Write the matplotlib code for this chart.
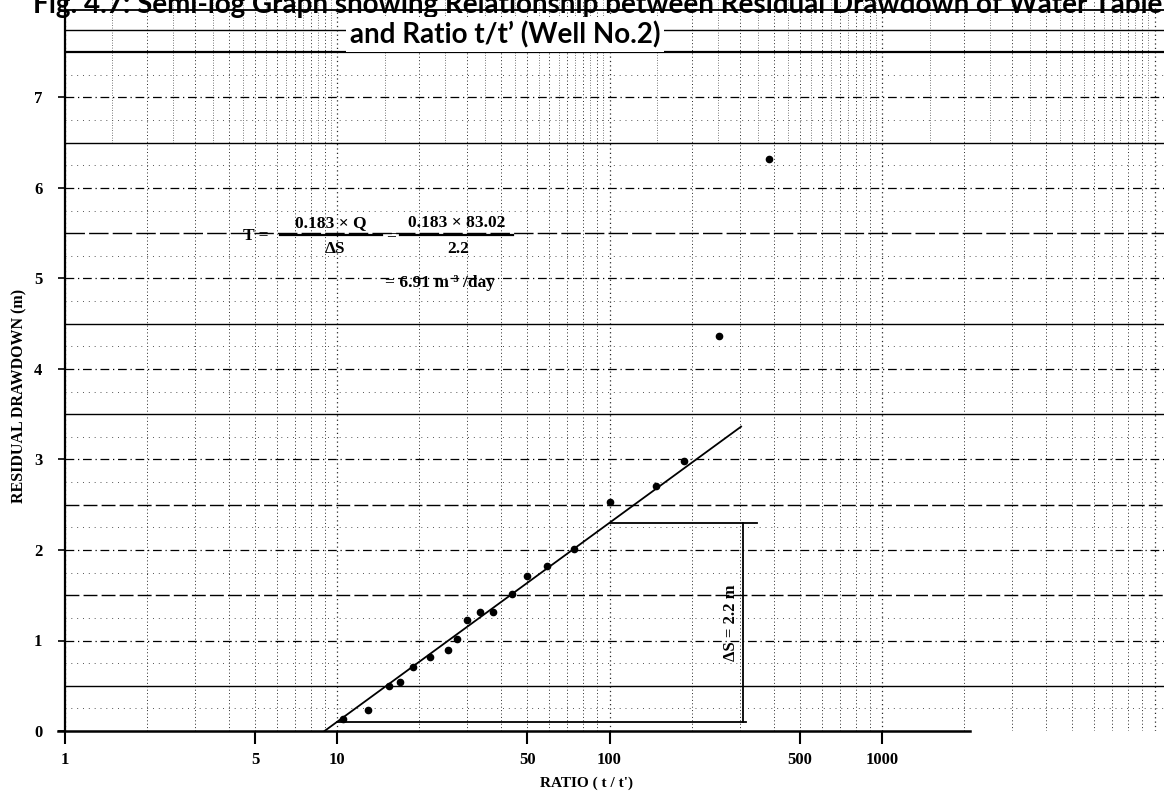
import numpy as np
import matplotlib.pyplot as plt
from matplotlib.lines import Line2D
from matplotlib.ticker import FixedLocator, NullLocator, FixedFormatter

# Recovery test, Well No.2: residual drawdown against time ratio t/t'
ratio = [10.5, 13, 15.5, 17, 19, 22, 25.5, 27.5, 30, 33.5, 37.5,
         44, 50, 59, 74, 100, 148, 188, 252, 385]
drawdown = [0.13, 0.23, 0.50, 0.54, 0.71, 0.82, 0.90, 1.02, 1.23, 1.32, 1.31,
            1.51, 1.71, 1.82, 2.01, 2.53, 2.71, 2.98, 4.36, 6.32]

x_ticks = [1, 5, 10, 50, 100, 500, 1000]
x_tick_labels = ["1", "5", "10", "50", "100", "500", "1000"]
y_ticks = [0, 1, 2, 3, 4, 5, 6, 7]

delta_s = 2.2          # drawdown change over one log cycle (m)
line_x0 = 9.0          # t/t' where the straight line meets zero drawdown
line_x_end = 304       # far end of the drawn straight line
cycle = (10, 100)      # log cycle used to read delta s
bracket_x = 308
top_end, bottom_end = 348, 318

W, H = 1164, 798
fig = plt.figure(figsize=(W / 100, H / 100), dpi=100)
x_left, y_zero, px_per_decade, px_per_m = 64.5, 731.0, 272.5, 90.5
ax = fig.add_axes([x_left / W, (H - y_zero) / H, (W - x_left) / W, y_zero / H])
ax.set_xscale("log")
ax.set_xlim(1, 10 ** ((W - x_left) / px_per_decade))
ymax = y_zero / px_per_m
ax.set_ylim(0, ymax)

# ---- semi-log graph paper ----
for d in [1, 10, 100, 1000, 10000]:
    for m in range(1, 10):
        xv = m * d
        ax.axvline(xv, color="black", lw=0.9 if m == 1 else 0.7,
                   ls=(0, (1, 2.5)), alpha=0.85, zorder=0.5)
        # dense sub-divisions in the upper band of the sheet
        ax.vlines((m + 0.5) * d, 6.5, ymax, color="black", lw=0.6,
                  ls=(0, (1, 2)), alpha=0.7, zorder=0.5)

half_style = {0.5: "-", 1.5: (0, (10, 3)), 2.5: (0, (10, 3)), 3.5: "-",
              4.5: "-", 5.5: (0, (14, 3)), 6.5: "-", 7.5: "-"}
for yv, st in half_style.items():
    ax.axhline(yv, color="black", lw=1.6 if yv == 7.5 else 1.0, ls=st, zorder=0.6)
for yv in range(1, 8):
    ax.axhline(yv, color="black", lw=0.9, ls=(0, (7, 3, 1, 3)), zorder=0.6)
for yv in np.arange(0.25, 8.0, 0.5):
    ax.axhline(yv, color="#555555", lw=0.7, ls=(0, (1, 5)), zorder=0.55)
ax.axhline(7.75, color="black", lw=1.0, zorder=0.6)
ax.axhline(7.97, color="black", lw=1.3, zorder=0.6)

# ---- data and fitted straight line ----
ax.plot(ratio, drawdown, "o", color="black", ms=4.5, zorder=3, clip_on=False)
xl = np.logspace(np.log10(line_x0), np.log10(line_x_end), 50)
ax.plot(xl, delta_s * np.log10(xl / line_x0), color="black", lw=1.3, zorder=2)

# delta s bracket across one log cycle
y_lo = delta_s * np.log10(cycle[0] / line_x0)
y_hi = delta_s * np.log10(cycle[1] / line_x0)
ax.plot([cycle[1], top_end], [y_hi, y_hi], color="black", lw=1.3, zorder=2)
ax.plot([cycle[0], bottom_end], [y_lo, y_lo], color="black", lw=1.3, zorder=2)
ax.plot([bracket_x, bracket_x], [y_lo, y_hi], color="black", lw=1.3, zorder=2)

serif = "Liberation Serif"
ax.text(278, (y_lo + y_hi) / 2, "\u0394S = %.1f m" % delta_s, rotation=90,
        ha="center", va="center", fontsize=12, fontweight="bold",
        family=serif, zorder=4)

# ---- transmissivity working ----
def fx(px):
    return px / W


def fy(py):
    return 1 - py / H


tk = dict(family=serif, fontweight="bold", fontsize=12.5, zorder=5)
fig.text(fx(243), fy(236), "T =", ha="left", va="center", **tk)
fig.text(fx(331), fy(223), "0.183 \u00d7 Q", ha="center", va="center", **tk)
fig.text(fx(335), fy(249), "\u0394S", ha="center", va="center", **tk)
fig.text(fx(391), fy(236), "=", ha="center", va="center", **tk)
fig.text(fx(457), fy(223), "0.183 \u00d7 83.02", ha="center", va="center", **tk)
fig.text(fx(458), fy(249), "%.1f" % delta_s, ha="center", va="center", **tk)
fig.text(fx(440), fy(283), "= 6.91 m \u00b3 /day", ha="center", va="center", **tk)
for x0, x1 in [(280, 382), (400, 513)]:
    fig.add_artist(Line2D([fx(x0), fx(x1)], [fy(235), fy(235)], color="black",
                          lw=1.6, zorder=5))

# ---- axes, ticks and labels ----
for side in ["top", "right"]:
    ax.spines[side].set_visible(False)
ax.spines["left"].set_linewidth(1.6)
ax.spines["bottom"].set_linewidth(1.8)
ax.spines["bottom"].set_bounds(0.95, 2100)
ax.spines["left"].set_zorder(2)

ax.xaxis.set_major_locator(FixedLocator(x_ticks))
ax.xaxis.set_major_formatter(FixedFormatter(x_tick_labels))
ax.xaxis.set_minor_locator(NullLocator())
ax.yaxis.set_major_locator(FixedLocator(y_ticks))
ax.tick_params(axis="x", length=9, width=1.5, pad=6, direction="out")
ax.tick_params(axis="y", length=5, width=1.2, pad=11, direction="out")
for lab in ax.get_xticklabels() + ax.get_yticklabels():
    lab.set_family(serif)
    lab.set_fontweight("bold")
    lab.set_fontsize(12)

fig.text(fx(587), fy(783), "RATIO ( t / t')", ha="center", va="center",
         family=serif, fontweight="bold", fontsize=11)
fig.text(fx(19), fy(396), "RESIDUAL DRAWDOWN (m)", ha="center", va="center",
         rotation=90, family=serif, fontweight="bold", fontsize=11.5)

# ---- caption ----
cap = dict(family="Lato", fontweight="bold", fontsize=20, color="black")
fig.text(fx(1162), fy(13),
         "Fig. 4.7: Semi-log Graph showing Relationship between Residual Drawdown of Water Table",
         ha="right", va="baseline", **cap)
fig.text(fx(505), fy(43), "and Ratio t/t\u2019 (Well No.2)", ha="center",
         va="baseline", bbox=dict(facecolor="white", edgecolor="none", pad=3),
         **cap)

fig.savefig("out.png", dpi=100)
